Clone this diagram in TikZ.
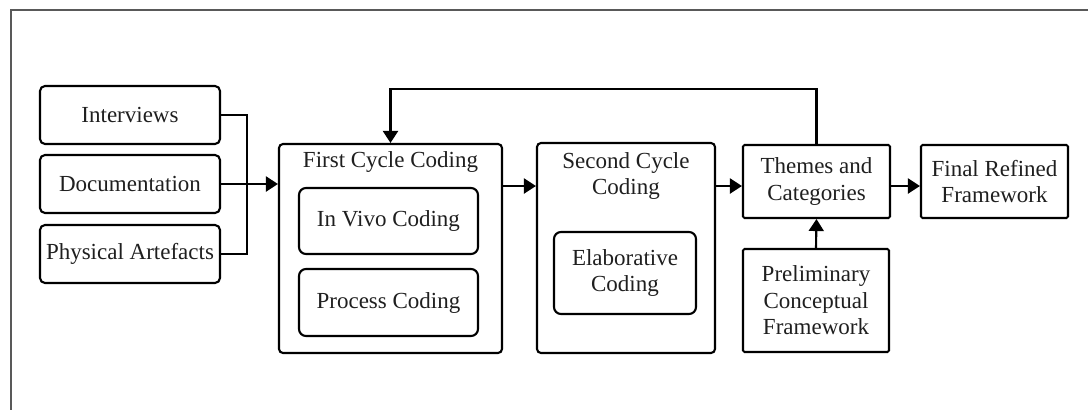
\documentclass[tikz,border=0pt]{standalone}
\usepackage{fontspec}
\setmainfont{Liberation Serif}
\usetikzlibrary{arrows.meta,calc}
\begin{document}
\begin{tikzpicture}[x=1pt,y=-1pt,
  every node/.style={font=\fontsize{23}{26.5}\selectfont, text=black!88, align=center, inner sep=0pt},
  src/.style={draw, line width=2.1pt, rounded corners=5pt, minimum width=180pt, minimum height=58pt},
  bigbox/.style={draw, line width=2.1pt, rounded corners=4pt},
  inbox/.style={draw, line width=2.1pt, rounded corners=7pt},
  sqbox/.style={draw, line width=2.1pt, rounded corners=1.5pt},
  ln/.style={line width=2.1pt},
  arr/.style={line width=2.1pt, -{Triangle[length=12pt,width=15pt]}},
  title/.style={draw=none}
]
\useasboundingbox (0,0) rectangle (1088,410);
\draw[line width=1.4pt, black!65] (11,410) -- (11,10) -- (1088,10);

\node[src] (int) at (130,115) {Interviews};
\node[src] (doc) at (130,184) {Documentation};
\node[src] (phys) at (130,254) {Physical Artefacts};

\node[bigbox, minimum width=223pt, minimum height=209pt] (first) at (390.5,248.5) {};
\node[title] (firstt) at (390.5,162) {First Cycle Coding};
\node[inbox, minimum width=179pt, minimum height=66pt] (invivo) at (388.5,221) {In Vivo Coding};
\node[inbox, minimum width=179pt, minimum height=67pt] (process) at (388.5,302.5) {Process Coding};

\node[bigbox, minimum width=178pt, minimum height=210pt] (second) at (626,248) {};
\node[title] (secondt) at (626,176) {Second Cycle\\Coding};
\node[inbox, minimum width=142pt, minimum height=82pt] (elab) at (625,273) {Elaborative\\Coding};

\node[sqbox, minimum width=147pt, minimum height=73pt] (themes) at (816.5,181.5) {Themes and\\Categories};
\node[sqbox, minimum width=147pt, minimum height=73pt] (final) at (994.5,181.5) {Final Refined\\Framework};
\node[sqbox, minimum width=146pt, minimum height=103pt] (prelim) at (816,300.5) {Preliminary\\Conceptual\\Framework};

\coordinate (join) at (247,184);
\coordinate (fb) at (0,89);
\draw[ln] (int.east) -| (join) |- (phys.east);
\draw[arr] (doc.east) -- (first.west |- doc.east);
\draw[arr] (first.east |- 0,186) -- (second.west |- 0,186);
\draw[arr] (second.east |- 0,186) -- (themes.west |- 0,186);
\draw[arr] (themes.east |- 0,186) -- (final.west |- 0,186);
\draw[arr] (prelim.north) -- (themes.south);
\draw[arr] (themes.north) -- (themes.north |- fb) -| (first.north);
\end{tikzpicture}
\end{document}
